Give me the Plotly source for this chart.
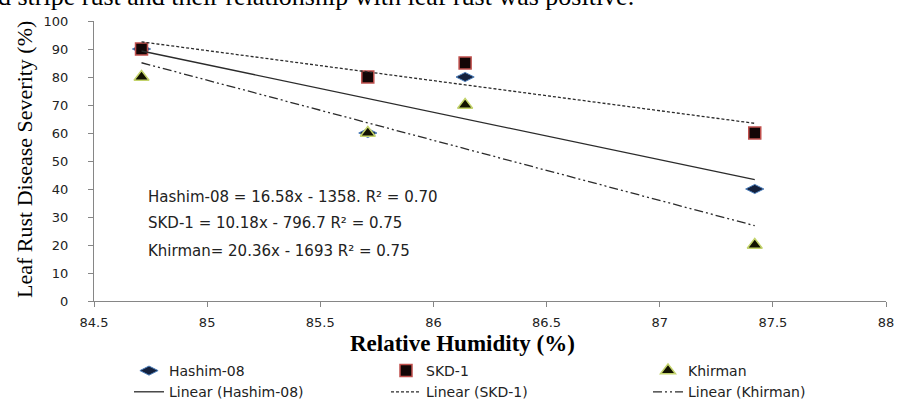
import numpy as np
import plotly.graph_objects as go

# ---- data ----
humidity = [84.71, 85.71, 86.14, 87.42]
hashim_08 = [90, 60, 80, 40]
skd_1 = [90, 80, 85, 60]
khirman = [80, 60, 70, 20]

series_names = ["Hashim-08", "SKD-1", "Khirman"]
equations = [
    "Hashim-08 = 16.58x - 1358. R² = 0.70",
    "SKD-1 = 10.18x - 796.7 R² = 0.75",
    "Khirman= 20.36x - 1693 R² = 0.75",
]
x_ticks = [84.5, 85, 85.5, 86, 86.5, 87, 87.5, 88]
y_ticks = [0, 10, 20, 30, 40, 50, 60, 70, 80, 90, 100]
caption = "d stripe rust and their relationship with leaf rust was positive."

W, H = 898, 401
L, R, T, B = 94, 12, 21, 100
pw, ph = W - L - R, H - T - B

def px_x(p):
    return (p - L) / pw

def px_y(p):
    return (H - B - p) / ph

SANS = "DejaVu Sans"
SERIF = "Liberation Serif"

fig = go.Figure()

styles = [
    dict(symbol="diamond-wide", size=13, color="#14213d", line=dict(color="#4F81BD", width=1)),
    dict(symbol="square", size=12, color="#120606", line=dict(color="#C0504D", width=1.5)),
    dict(symbol="triangle-up", size=13, color="#121200", line=dict(color="#C3D36B", width=1.5)),
]
legend_ids = ["legend", "legend2", "legend3"]
data_sets = [hashim_08, skd_1, khirman]
for name, ys, st, lg in zip(series_names, data_sets, styles, legend_ids):
    fig.add_trace(go.Scatter(x=humidity, y=ys, mode="markers", name=name,
                             marker=st, legend=lg))

dashes = ["solid", "3px,2px", "9px,3px,2px,3px,2px,3px"]
xa = np.array(humidity)
for name, ys, dsh, lg in zip(series_names, data_sets, dashes, legend_ids):
    m, c = np.polyfit(xa, np.array(ys, dtype=float), 1)
    xs = [xa.min(), xa.max()]
    fig.add_trace(go.Scatter(x=xs, y=[m * v + c for v in xs], mode="lines",
                             name=f"Linear ({name})",
                             line=dict(color="#2b2b2b", width=1.3, dash=dsh),
                             legend=lg))

ann = []
for txt, py in zip(equations, [197, 223, 251]):
    ann.append(dict(x=px_x(146), y=px_y(py), xref="paper", yref="paper",
                    text=txt, showarrow=False, xanchor="left", yanchor="middle",
                    font=dict(family=SANS, size=15, color="#222")))
ann.append(dict(x=px_x(-4), y=px_y(13), xref="paper", yref="paper",
                text=caption, showarrow=False, xanchor="left", yanchor="bottom",
                font=dict(family=SERIF, size=26, color="#000")))
# axis titles
ann.append(dict(x=px_x(462), y=px_y(343), xref="paper", yref="paper",
                text="<b>Relative Humidity (%)</b>", showarrow=False,
                xanchor="center", yanchor="middle",
                font=dict(family=SERIF, size=23, color="#000")))
ann.append(dict(x=px_x(24), y=px_y(160), xref="paper", yref="paper",
                text="Leaf Rust Disease Severity (%)", showarrow=False, textangle=-90,
                xanchor="center", yanchor="middle",
                font=dict(family=SERIF, size=22, color="#000")))

axis_common = dict(showline=True, linecolor="#868686", linewidth=1, ticks="outside",
                   tickcolor="#868686", ticklen=5, showgrid=False, zeroline=False,
                   tickfont=dict(family=SANS, size=13, color="#222"), mirror=False,
                   automargin=False)

legend_common = dict(orientation="v", xanchor="left", yanchor="top", tracegroupgap=0,
                     font=dict(family=SANS, size=14, color="#222"),
                     bgcolor="rgba(0,0,0,0)", borderwidth=0)

fig.update_layout(
    width=W, height=H, autosize=False,
    margin=dict(l=L, r=R, t=T, b=B, autoexpand=False),
    paper_bgcolor="white", plot_bgcolor="white",
    xaxis=dict(range=[84.5, 88], tickvals=x_ticks, ticktext=[f"{v:g}" for v in x_ticks],
               ticklabelstandoff=4, **axis_common),
    yaxis=dict(range=[0, 100], tickvals=y_ticks, ticklabelstandoff=17, **axis_common),
    legend=dict(x=px_x(129), y=px_y(355), **legend_common),
    legend2=dict(x=px_x(386), y=px_y(355), **legend_common),
    legend3=dict(x=px_x(648), y=px_y(355), **legend_common),
    annotations=ann,
    showlegend=True,
)

fig.write_html("out.html", config={"displayModeBar": False},
               post_script="document.body.style.margin='0';document.body.style.padding='0';")
